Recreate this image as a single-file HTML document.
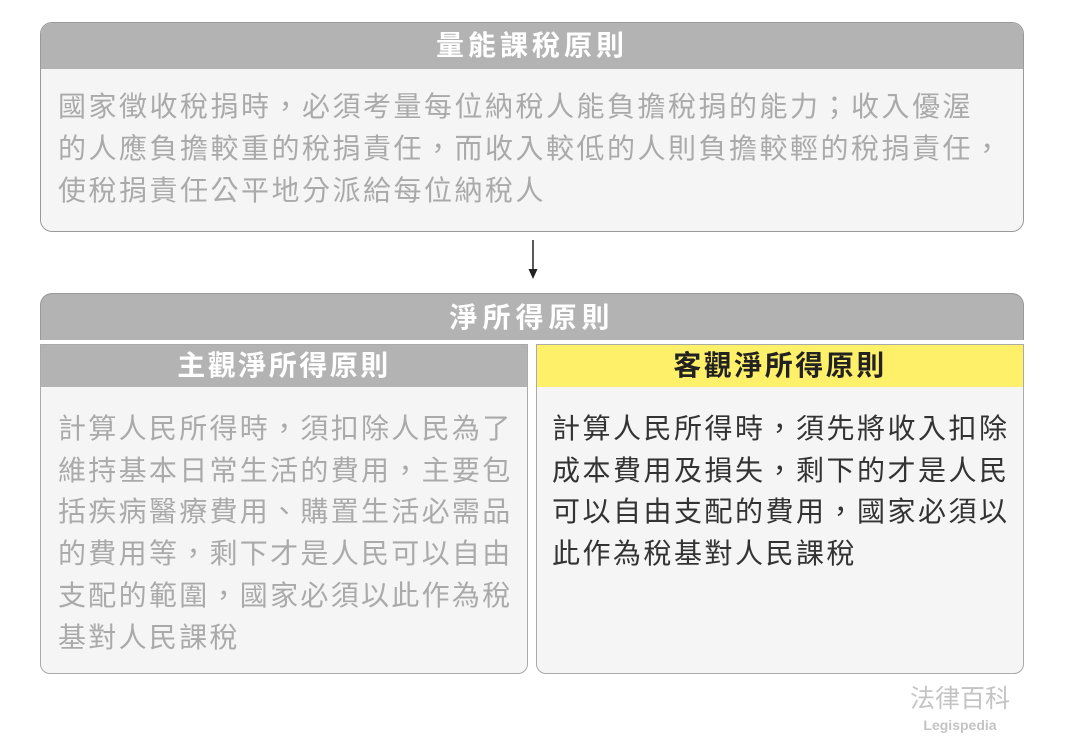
<!DOCTYPE html>
<html><head><meta charset="utf-8"><style>
body{margin:0;width:1065px;height:749px;background:#fff;font-family:"Liberation Sans","Noto Sans CJK TC",sans-serif;position:relative;overflow:hidden}
.abs{position:absolute;box-sizing:border-box}
.hdr{color:#fff;font-weight:bold;font-size:28px;text-align:center;letter-spacing:2px}
.txt{font-size:28px;white-space:nowrap}
</style></head><body>
<div class="abs" style="left:40px;top:22px;width:984px;height:210px;border:1px solid #999;border-radius:12px;background:#f5f5f5;overflow:hidden">
  <div class="hdr" style="background:#b3b3b3;height:46px;line-height:46px;letter-spacing:4px">量能課稅原則</div>
  <div class="txt" style="color:#aaa;position:absolute;left:17px;top:63px;line-height:42px;letter-spacing:2.5px">國家徵收稅捐時，必須考量每位納稅人能負擔稅捐的能力；收入優渥<br>的人應負擔較重的稅捐責任，而收入較低的人則負擔較輕的稅捐責任，<br>使稅捐責任公平地分派給每位納稅人</div>
</div>
<svg class="abs" style="left:525px;top:238px" width="16" height="42"><line x1="8" y1="2" x2="8" y2="34" stroke="#222" stroke-width="1.5"/><path d="M3.5 31 L8 41 L12.5 31 Z" fill="#222"/></svg>
<div class="abs hdr" style="left:40px;top:293px;width:984px;height:47px;line-height:47px;background:#b3b3b3;border:1px solid #999;border-bottom:none;border-radius:12px 12px 0 0;letter-spacing:5px">淨所得原則</div>
<div class="abs" style="left:40px;top:344px;width:488px;height:330px;border:1px solid #aaa;border-radius:0 0 10px 10px;background:#f5f5f5;overflow:hidden">
  <div class="hdr" style="background:#b3b3b3;height:42px;line-height:42px;letter-spacing:2.5px">主觀淨所得原則</div>
  <div class="txt" style="color:#aaa;position:absolute;left:17px;top:63px;line-height:41.7px;letter-spacing:2.3px">計算人民所得時，須扣除人民為了<br>維持基本日常生活的費用，主要包<br>括疾病醫療費用、購置生活必需品<br>的費用等，剩下才是人民可以自由<br>支配的範圍，國家必須以此作為稅<br>基對人民課稅</div>
</div>
<div class="abs" style="left:536px;top:344px;width:488px;height:330px;border:1px solid #aaa;border-radius:0 0 10px 10px;background:#f5f5f5;overflow:hidden">
  <div class="hdr" style="background:#fff06a;color:#222;height:42px;line-height:42px;letter-spacing:2.5px">客觀淨所得原則</div>
  <div class="txt" style="color:#333;position:absolute;left:15px;top:63px;line-height:41.7px;letter-spacing:2.5px">計算人民所得時，須先將收入扣除<br>成本費用及損失，剩下的才是人民<br>可以自由支配的費用，國家必須以<br>此作為稅基對人民課稅</div>
</div>
<div class="abs" style="left:905px;top:684px;width:110px;text-align:center;color:#c4c4c4;font-size:25px;line-height:30px;letter-spacing:0px">法律百科</div>
<div class="abs" style="left:905px;top:717px;width:110px;text-align:center;color:#c4c4c4;font-size:14px;font-weight:bold">Legispedia</div>
</body></html>
